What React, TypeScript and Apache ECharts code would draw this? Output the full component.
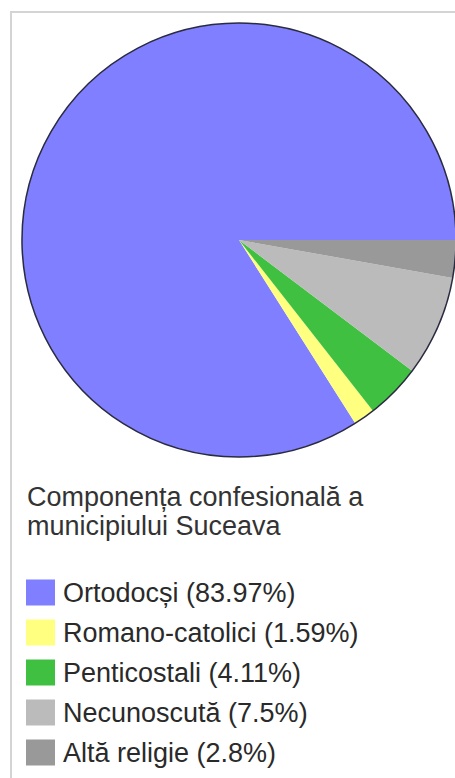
import React, { useEffect, useRef } from "react";
import * as echarts from "echarts";

const categories = ["Ortodocși", "Romano-catolici", "Penticostali", "Necunoscută", "Altă religie"];
const values = [83.97, 1.59, 4.11, 7.5, 2.8];
const colors = ["#7f7fff", "#ffff80", "#40c040", "#bbbbbb", "#999999"];
const titleText = "Componența confesională a\nmunicipiului Suceava";

export default function App() {
  const ref = useRef<HTMLDivElement>(null);
  useEffect(() => {
    if (!ref.current) return;
    const chart = echarts.init(ref.current, undefined, { renderer: "svg" });
    const font = "'Liberation Sans', Arial, sans-serif";
    const valueOf: Record<string, number> = {};
    categories.forEach((c, i) => (valueOf[c] = values[i]));
    chart.setOption({
      animation: false,
      backgroundColor: "#ffffff",
      title: {
        text: titleText,
        left: 27,
        top: 482,
        padding: 0,
        textStyle: { fontFamily: font, fontSize: 27, fontWeight: "normal", color: "#333333", lineHeight: 29 },
      },
      legend: {
        orient: "vertical",
        left: 26,
        top: 579,
        padding: 0,
        data: categories,
        icon: "rect",
        itemWidth: 29,
        itemHeight: 26,
        itemGap: 13,
        selectedMode: false,
        formatter: (name: string) => `${name} (${valueOf[name]}%)`,
        textStyle: { fontFamily: font, fontSize: 27, color: "#2a2a2a", padding: [0, 0, 0, 3] },
      },
      graphic: [
        { type: "line", shape: { x1: 11, y1: 12, x2: 11, y2: 778 }, style: { stroke: "#d4d4d4", lineWidth: 2 }, silent: true },
        { type: "line", shape: { x1: 10, y1: 12, x2: 455, y2: 12 }, style: { stroke: "#d4d4d4", lineWidth: 2 }, silent: true },
      ],
      series: [
        {
          type: "pie",
          center: [239, 240],
          radius: 217,
          startAngle: 0,
          clockwise: false,
          silent: true,
          label: { show: false },
          labelLine: { show: false },
          emphasis: { disabled: true },
          itemStyle: { borderWidth: 0 },
          data: categories.map((c, i) => ({ name: c, value: values[i], itemStyle: { color: colors[i] } })),
        },
        {
          type: "pie",
          center: [239, 240],
          radius: 217,
          silent: true,
          label: { show: false },
          labelLine: { show: false },
          emphasis: { disabled: true },
          itemStyle: { color: "rgba(0,0,0,0)", borderColor: "#2a2a40", borderWidth: 1.5 },
          data: [{ name: "outline", value: 1 }],
        },
      ],
    });
    return () => chart.dispose();
  }, []);
  return <div ref={ref} style={{ position: "fixed", left: 0, top: 0, width: 455, height: 778 }} />;
}
